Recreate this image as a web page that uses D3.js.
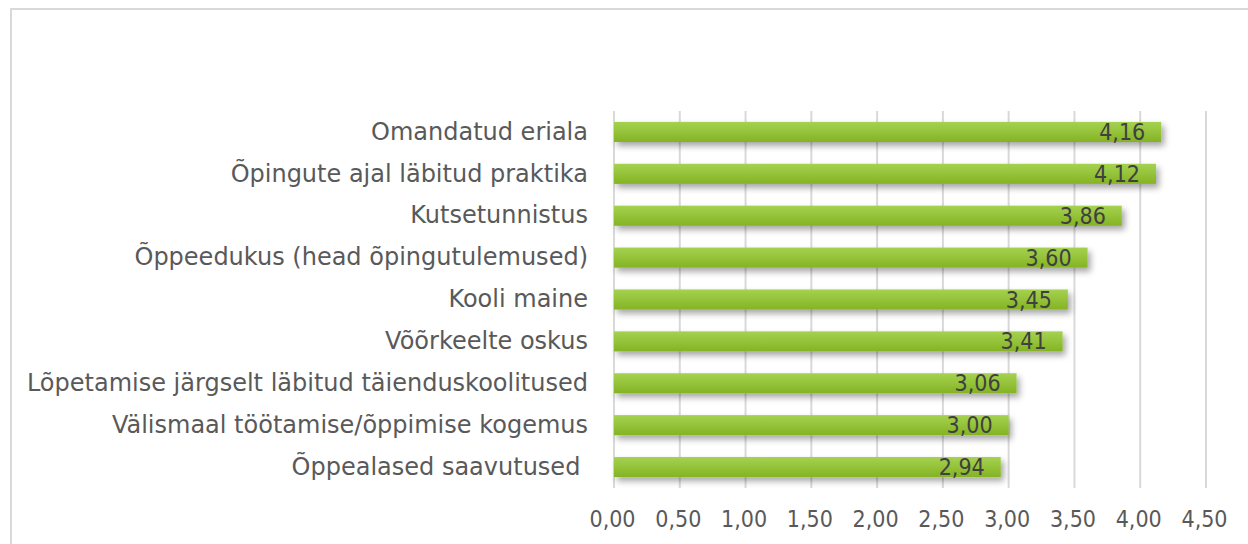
<!DOCTYPE html>
<html>
<head>
<meta charset="utf-8">
<script src="https://cdnjs.cloudflare.com/ajax/libs/d3/7.8.5/d3.min.js"></script>
<style>
  body { margin: 0; background: #fff; }
  svg { display: block; }
</style>
</head>
<body>
<svg id="chart" width="1248" height="544"></svg>
<script>
// data
var categories = [
    "Omandatud eriala",
    "Õpingute ajal läbitud praktika",
    "Kutsetunnistus",
    "Õppeedukus (head õpingutulemused)",
    "Kooli maine",
    "Võõrkeelte oskus",
    "Lõpetamise järgselt läbitud täienduskoolitused",
    "Välismaal töötamise/õppimise kogemus",
    "Õppealased saavutused "
];
var values = [4.16, 4.12, 3.86, 3.60, 3.45, 3.41, 3.06, 3.00, 2.94];
var tickValues = [0, 0.5, 1, 1.5, 2, 2.5, 3, 3.5, 4, 4.5];

var numFont = "'DejaVu Sans Condensed', 'DejaVu Sans', sans-serif";
var catFont = "'DejaVu Sans', sans-serif";
var fmt = function(v) { return d3.format(".2f")(v).replace(".", ","); };

var svg = d3.select("#chart");

// outer frame
svg.append("rect")
    .attr("x", 11).attr("y", 9)
    .attr("width", 1260).attr("height", 560)
    .attr("fill", "none")
    .attr("stroke", "#d9d9d9")
    .attr("stroke-width", 2);

var defs = svg.append("defs");
var grad = defs.append("linearGradient")
    .attr("id", "barGrad")
    .attr("x1", 0).attr("y1", 0).attr("x2", 0).attr("y2", 1);
grad.append("stop").attr("offset", "0%").attr("stop-color", "#a5d250");
grad.append("stop").attr("offset", "100%").attr("stop-color", "#84b323");

var shadow = defs.append("filter")
    .attr("id", "barShadow")
    .attr("x", "-10%").attr("y", "-50%")
    .attr("width", "130%").attr("height", "250%");
shadow.append("feDropShadow")
    .attr("dx", 3).attr("dy", 4)
    .attr("stdDeviation", 3)
    .attr("flood-color", "#000")
    .attr("flood-opacity", 0.35);

// scales
var x = d3.scaleLinear().domain([0, 4.5]).range([614, 1206]);
var y = d3.scaleBand().domain(categories).range([111, 488]).paddingInner(0.52).paddingOuter(0.26);

// gridlines
svg.append("g")
    .selectAll("line")
    .data(tickValues)
    .enter().append("line")
    .attr("x1", function(d) { return x(d); })
    .attr("x2", function(d) { return x(d); })
    .attr("y1", 111)
    .attr("y2", 488)
    .attr("stroke", "#d9d9d9")
    .attr("stroke-width", 2);

// x axis labels
var xAxis = d3.axisBottom(x)
    .tickValues(tickValues)
    .tickFormat(fmt)
    .tickSize(0)
    .tickPadding(0);
var gx = svg.append("g")
    .attr("transform", "translate(-2,511)")
    .call(xAxis);
gx.select(".domain").remove();
gx.selectAll("text")
    .attr("font-family", numFont)
    .attr("font-size", 23)
    .attr("fill", "#595959");

// category labels (keep trailing space of last label)
var yAxis = d3.axisLeft(y).tickSize(0).tickPadding(0);
var gy = svg.append("g")
    .attr("transform", "translate(588,0)")
    .call(yAxis);
gy.select(".domain").remove();
gy.selectAll("text")
    .attr("font-family", catFont)
    .attr("font-size", 24)
    .attr("fill", "#595959")
    .style("white-space", "pre");

// bars
svg.append("g")
    .selectAll("rect")
    .data(values)
    .enter().append("rect")
    .attr("x", x(0))
    .attr("y", function(d, i) { return y(categories[i]); })
    .attr("width", function(d) { return x(d) - x(0); })
    .attr("height", y.bandwidth())
    .attr("fill", "url(#barGrad)")
    .attr("filter", "url(#barShadow)");

// value labels
svg.append("g")
    .selectAll("text")
    .data(values)
    .enter().append("text")
    .attr("x", function(d) { return x(d) - 16; })
    .attr("y", function(d, i) { return y(categories[i]) + y.bandwidth() / 2; })
    .attr("dy", "0.35em")
    .attr("text-anchor", "end")
    .attr("font-family", numFont)
    .attr("font-size", 23)
    .attr("fill", "#404040")
    .text(fmt);
</script>
</body>
</html>
